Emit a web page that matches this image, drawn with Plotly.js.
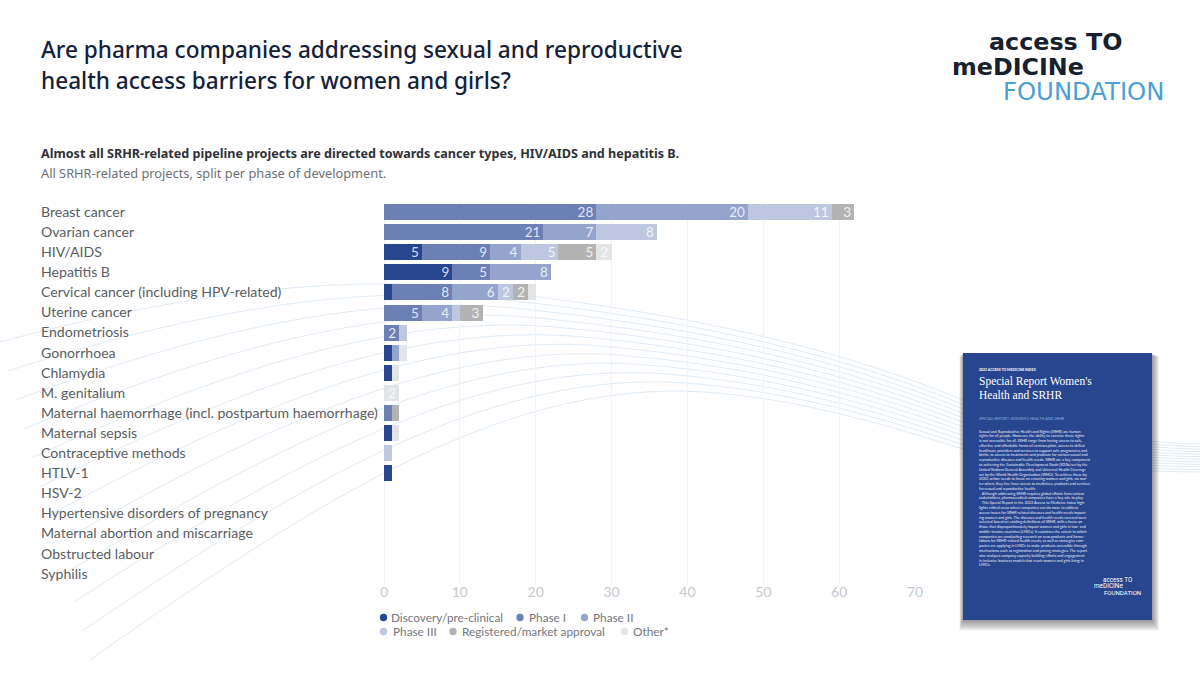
<!DOCTYPE html>
<html>
<head>
<meta charset="utf-8">
<script src="https://cdn.plot.ly/plotly-3.0.1.min.js"></script>
<style>html,body{margin:0;padding:0;background:#fff}#chart{width:1200px;height:675px}</style>
</head>
<body>
<div id="chart"></div>
<script>
const categories = ["Breast cancer","Ovarian cancer","HIV/AIDS","Hepatitis B","Cervical cancer (including HPV-related)","Uterine cancer","Endometriosis","Gonorrhoea","Chlamydia","M. genitalium","Maternal haemorrhage (incl. postpartum haemorrhage)","Maternal sepsis","Contraceptive methods","HTLV-1","HSV-2","Hypertensive disorders of pregnancy","Maternal abortion and miscarriage","Obstructed labour","Syphilis"];
const discovery  = [0,0,5,9,1,0,0,1,1,0,0,1,0,1,0,0,0,0,0];
const phase1     = [28,21,9,5,8,5,2,0,0,0,1,0,0,0,0,0,0,0,0];
const phase2     = [20,7,4,8,6,4,0,1,0,0,0,0,0,0,0,0,0,0,0];
const phase3     = [11,8,5,0,2,1,1,0,0,0,0,0,1,0,0,0,0,0,0];
const registered = [3,0,5,0,2,3,0,0,0,0,1,0,0,0,0,0,0,0,0];
const other      = [0,0,2,0,1,0,0,1,1,2,0,1,0,0,0,0,0,0,0];
const seriesNames = ["Discovery/pre-clinical","Phase I","Phase II","Phase III","Registered/market approval","Other*"];
const seriesColors = ["#27468f","#6c80b6","#95a4cc","#bdc7df","#b3b3b3","#e3e4e6"];
const seriesValues = [discovery,phase1,phase2,phase3,registered,other];
const xTicks = [0,10,20,30,40,50,60,70];
const titleLines = ["Are pharma companies addressing sexual and reproductive","health access barriers for women and girls?"];
const subtitleBold = "Almost all SRHR-related pipeline projects are directed towards cancer types, HIV/AIDS and hepatitis B.";
const subtitleLight = "All SRHR-related projects, split per phase of development.";
const coverBody = [
"Sexual and Reproductive Health and Rights (SRHR) are human",
"rights for all people. However, the ability to exercise these rights",
"is not accessible for all. SRHR range from having access to safe,",
"effective and affordable forms of contraception, access to skilled",
"healthcare providers and services to support safe pregnancies and",
"births, to access to treatments and products for various sexual and",
"reproductive diseases and health needs. SRHR are a key component",
"to achieving the Sustainable Development Goals (SDGs) set by the",
"United Nations General Assembly and Universal Health Coverage",
"set by the World Health Organization (WHO). To achieve these by",
"2030, action needs to focus on ensuring women and girls, no mat-",
"ter where they live, have access to medicines, products and services",
"for sexual and reproductive health.",
"   Although addressing SRHR requires global efforts from various",
"stakeholders, pharmaceutical companies have a key role to play.",
"   This Special Report in the 2022 Access to Medicine Index high-",
"lights critical areas where companies can do more to address",
"access issues for SRHR-related diseases and health needs impact-",
"ing women and girls. The diseases and health needs covered were",
"selected based on existing definitions of SRHR, with a focus on",
"those that disproportionately impact women and girls in low- and",
"middle-income countries (LMICs). It examines the extent to which",
"companies are conducting research on new products and formu-",
"lations for SRHR-related health needs, as well as strategies com-",
"panies are applying in LMICs to make products accessible through",
"mechanisms such as registration and pricing strategies. The report",
"also analyses company capacity building efforts and engagement",
"in inclusive business models that reach women and girls living in",
"LMICs."
];

const W = 1200, H = 675;
const L = 384, R = 915, T = 202, B = 585;
const px = x => (x - L) / (R - L);
const py = y => (B - y) / (B - T);
const UI = "Lato, 'Noto Sans', sans-serif";
const HEAD = "'Noto Sans', 'Open Sans', sans-serif";
const LOGO = "'DejaVu Sans', sans-serif";

function txt(x, y, text, size, color, family, extra) {
  return Object.assign({xref:'paper', yref:'paper', x:px(x), y:py(y), text, showarrow:false,
    xanchor:'left', yanchor:'middle', align:'left', borderpad:0,
    font:{size, color, family}}, extra || {});
}

const traces = seriesNames.map((name, i) => ({
  type:'bar', orientation:'h', name, y:categories, x:seriesValues[i],
  marker:{color:seriesColors[i], line:{width:0}},
  text:seriesValues[i].map(v => v >= 2 ? String(v) : ''),
  textposition:'inside', insidetextanchor:'end', textangle:0, constraintext:'none',
  insidetextfont:{size:13.5, color:'rgba(255,255,255,0.82)', family:UI},
  cliponaxis:false, showlegend:false, hoverinfo:'x+y+name'
}));

const shapes = [];
// decorative flowing lines behind the chart, passing behind the report cover
const curveCount = 12;
for (let i = 0; i < curveCount; i++) {
  const t = i / (curveCount - 1);
  const m = (a, b) => a + (b - a) * t;
  const P = (x, y) => `${px(x)},${py(y)}`;
  const d = `M ${P(m(0,90), m(342,660))} C ${P(m(170,330), m(296,490))} ${P(m(340,500), m(272,390))} ${P(m(480,680), m(290,391))} ` +
            `C ${P(m(680,780), m(312,393))} ${P(m(830,880), m(345,423))} ${P(963, m(400,449))} ` +
            `C ${P(1040, m(428,468))} ${P(1120, m(442,471))} ${P(1200, m(444,472))}`;
  shapes.push({type:'path', path:d, xref:'paper', yref:'paper', layer:'below',
    line:{color:'#e0ebf5', width:1}, fillcolor:'rgba(0,0,0,0)'});
}
// report cover with soft shadow
const rect = (x0,y0,x1,y1,fill) => ({type:'rect', xref:'paper', yref:'paper', layer:'above',
  x0:px(x0), x1:px(x1), y0:py(y1), y1:py(y0), fillcolor:fill, line:{width:0}});
for (let s = 12; s >= 1; s--) shapes.push(rect(963-s*0.3, 353+s*0.3, 1152+s*0.6, 620+s*0.9, 'rgba(50,50,50,0.05)'));
shapes.push(rect(963, 353, 1152, 620, '#27468f'));
// legend markers
const legendPos = [[383.5,617.5],[520,617.5],[584.5,617.5],[383.5,631.5],[453,631.5],[624.5,631.5]];
const legendTextX = [389.5,527.5,592,391.5,460.5,632];
legendPos.forEach((p, i) => shapes.push({type:'circle', xref:'paper', yref:'paper', layer:'above',
  x0:px(p[0]-3.7), x1:px(p[0]+3.7), y0:py(p[1]+3.7), y1:py(p[1]-3.7), fillcolor:seriesColors[i], line:{width:0}}));

const annotations = [];
titleLines.forEach((t, i) => annotations.push(txt(40, 49.5 + i*31, t, 22.6, '#14213a', HEAD, {font:{size:22.6,color:'#14213a',family:HEAD,weight:500}})));
annotations.push(txt(40, 153.5, subtitleBold, 12.6, '#2e3138', HEAD, {font:{size:12.6,color:'#2e3138',family:HEAD,weight:700}}));
annotations.push(txt(40, 173, subtitleLight, 12.8, '#6d7076', HEAD));
// category labels sit on the category scale, left aligned
categories.forEach(c => annotations.push({xref:'paper', yref:'y', x:px(38.5), y:c, yshift:0.7, text:c, showarrow:false,
  xanchor:'left', yanchor:'middle', align:'left', font:{size:14.1, color:'#5a5d63', family:UI}}));
// legend
seriesNames.forEach((n, i) => annotations.push(txt(legendTextX[i], legendPos[i][1], n, 11.8, '#75777c', UI)));
// logo
annotations.push(txt(988, 41.5, 'access TO', 23.8, '#17202f', LOGO, {font:{size:23.8,color:'#17202f',family:LOGO,weight:700}}));
annotations.push(txt(951, 67, 'meDICINe', 23.8, '#17202f', LOGO, {font:{size:23.8,color:'#17202f',family:LOGO,weight:700}}));
annotations.push(txt(1001.5, 92, 'FOUNDATION', 24.3, '#4c9fd2', LOGO));
// report cover
annotations.push(txt(978, 370, '2023 ACCESS TO MEDICINE INDEX', 3.5, '#ffffff', UI, {font:{size:3.5,color:'#fff',family:UI,weight:700}}));
annotations.push(txt(978, 381.5, "Special Report Women's", 11.5, '#ffffff', "'Liberation Serif', serif"));
annotations.push(txt(978, 395, 'Health and SRHR', 11.5, '#ffffff', "'Liberation Serif', serif"));
annotations.push(txt(978, 418, "SPECIAL REPORT: WOMEN'S HEALTH AND SRHR", 3.8, '#7fb2e0', UI));
coverBody.forEach((line, i) => annotations.push(txt(978, 431 + i*4.78, line, 3.75, '#e9eef8', UI)));
annotations.push(txt(1102, 579.5, 'access TO', 6.3, '#ffffff', "Roboto, sans-serif"));
annotations.push(txt(1093, 586, 'meDICINe', 6.4, '#ffffff', "Roboto, sans-serif"));
annotations.push(txt(1103, 592.5, 'FOUNDATION', 6.1, '#ffffff', "Roboto, sans-serif"));

const layout = {
  width:W, height:H, autosize:false, showlegend:false,
  paper_bgcolor:'#ffffff', plot_bgcolor:'rgba(0,0,0,0)',
  margin:{l:L, r:W-R, t:T, b:H-B, pad:0},
  barmode:'stack', bargap:0.2,
  xaxis:{range:[0,70], tickvals:xTicks, ticktext:xTicks.map(String), showgrid:true, gridcolor:'#f1f3f6', gridwidth:1,
    zeroline:true, zerolinecolor:'#f1f3f6', showline:false, ticks:'', ticklen:0, ticklabelstandoff:-3,
    tickfont:{size:14, color:'#c6c9cd', family:UI}, automargin:false},
  yaxis:{type:'category', categoryorder:'array', categoryarray:categories, autorange:'reversed',
    showticklabels:false, showgrid:false, zeroline:false, showline:false, ticks:'', automargin:false},
  shapes, annotations
};
Plotly.newPlot('chart', traces, layout, {displayModeBar:false, staticPlot:true});
</script>
</body>
</html>
